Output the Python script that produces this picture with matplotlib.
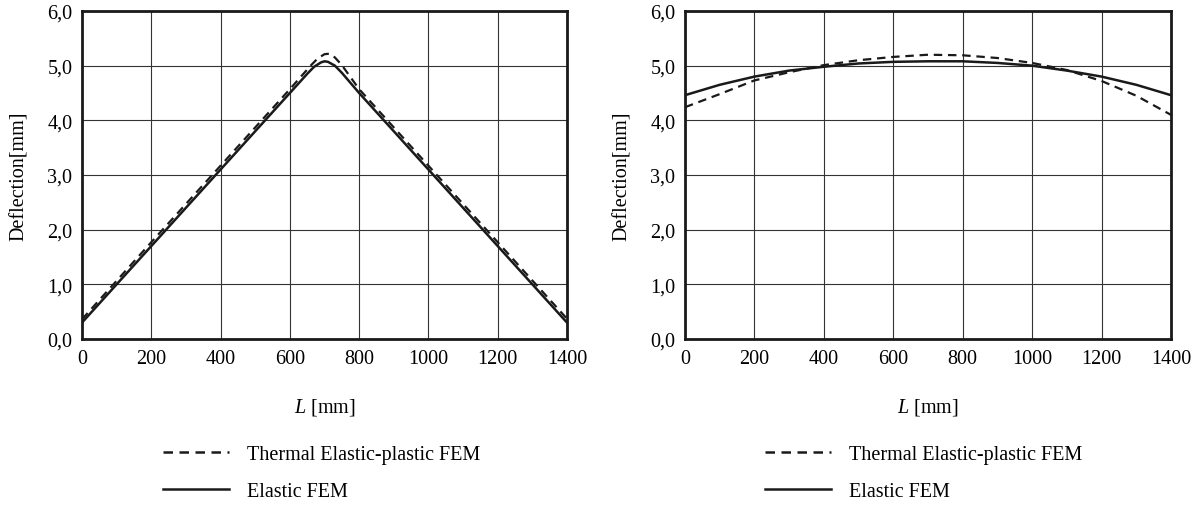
import numpy as np
import matplotlib as mpl
mpl.use('Agg')
import matplotlib.pyplot as plt
from matplotlib.lines import Line2D

plt.rcParams['font.family'] = ['Liberation Serif', 'DejaVu Serif']
plt.rcParams['mathtext.fontset'] = 'custom'
plt.rcParams['mathtext.it'] = 'Liberation Serif:italic'
plt.rcParams['mathtext.rm'] = 'Liberation Serif'

# left panel
L_left_solid = [0, 200, 400, 600, 650, 670, 690, 700, 710, 730, 750, 800, 1000, 1200, 1400]
D_left_solid = [0.30, 1.70, 3.10, 4.50, 4.85, 4.98, 5.06, 5.08, 5.07, 5.00, 4.87, 4.50, 3.10, 1.70, 0.30]
L_left_dash = [0, 200, 400, 600, 660, 680, 700, 715, 730, 750, 800, 1000, 1200, 1400]
D_left_dash = [0.36, 1.77, 3.17, 4.57, 5.00, 5.13, 5.21, 5.22, 5.15, 5.01, 4.57, 3.17, 1.77, 0.37]

# right panel
L_right_solid = [0, 100, 200, 300, 400, 500, 600, 700, 800, 900, 1000, 1100, 1200, 1300, 1400]
D_right_solid = [4.46, 4.65, 4.80, 4.91, 4.98, 5.04, 5.07, 5.08, 5.08, 5.05, 5.00, 4.91, 4.80, 4.65, 4.46]
L_right_dash = [0, 100, 200, 300, 400, 500, 600, 700, 800, 900, 1000, 1100, 1200, 1300, 1400]
D_right_dash = [4.24, 4.48, 4.73, 4.88, 5.01, 5.10, 5.16, 5.20, 5.19, 5.14, 5.05, 4.92, 4.72, 4.45, 4.10]

xticks = [0, 200, 400, 600, 800, 1000, 1200, 1400]
yticks = [0, 1, 2, 3, 4, 5, 6]
ytick_labels = ['0,0', '1,0', '2,0', '3,0', '4,0', '5,0', '6,0']

label_dash = 'Thermal Elastic-plastic FEM'
label_solid = 'Elastic FEM'

W, H = 1204, 506
fig = plt.figure(figsize=(W / 100, H / 100), dpi=100)

dash_style = (0, (3.8, 2.6))
fs = 14.5

panels = [
    (82, 485, L_left_dash, D_left_dash, L_left_solid, D_left_solid, 163),
    (685, 486, L_right_dash, D_right_dash, L_right_solid, D_right_solid, 765),
]

for x0, w, xd, yd, xs, ys, legx in panels:
    ax = fig.add_axes([x0 / W, (H - 340) / H, w / W, 328 / H])
    ax.plot(xd, yd, color='#1a1a1a', lw=1.6, linestyle=dash_style, zorder=3)
    ax.plot(xs, ys, color='#1a1a1a', lw=1.8, zorder=3)
    ax.set_xlim(0, 1400)
    ax.set_ylim(0, 6)
    ax.set_xticks(xticks)
    ax.set_yticks(yticks)
    ax.set_yticklabels(ytick_labels)
    ax.tick_params(length=0, labelsize=fs, pad=7)
    ax.grid(True, color='#333333', lw=0.8)
    ax.set_axisbelow(True)
    for s in ax.spines.values():
        s.set_linewidth(2.0)
        s.set_color('#1a1a1a')
    ax.set_xlabel(r'$L$ [mm]', fontsize=fs, labelpad=20)
    ax.set_ylabel('Deflection[mm]', fontsize=fs, labelpad=13)

    handles = [Line2D([], [], color='#1a1a1a', lw=1.8, linestyle=dash_style),
               Line2D([], [], color='#1a1a1a', lw=1.8)]
    ax.legend(handles, [label_dash, label_solid], loc='center left',
              bbox_to_anchor=(legx / W, 1 - 474 / H), bbox_transform=fig.transFigure,
              frameon=False, fontsize=fs, handlelength=3.3, handletextpad=0.85,
              labelspacing=0.9, borderpad=0, borderaxespad=0)

fig.savefig('out.png', dpi=100)
